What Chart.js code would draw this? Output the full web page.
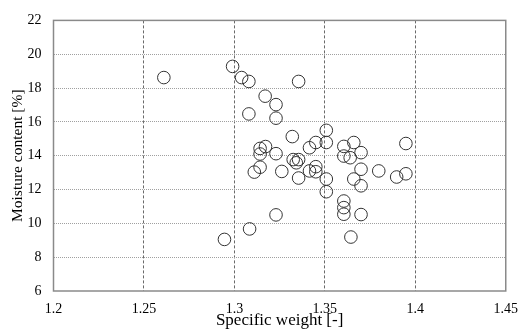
<!DOCTYPE html>
<html>
<head>
<meta charset="utf-8">
<script src="https://cdn.jsdelivr.net/npm/chart.js@4/dist/chart.umd.min.js"></script>
<style>
  html, body { margin: 0; padding: 0; background: #fff; }
  #wrap { width: 528px; height: 329px; }
</style>
</head>
<body>
<div id="wrap"><canvas id="scatterChart"></canvas></div>
<script>
// specific weight [-]
const specificWeight = [
    1.261, 1.299, 1.304, 1.308, 1.308, 1.3355, 1.317, 1.323, 1.323, 1.3508,
    1.332, 1.3508, 1.345, 1.3415, 1.3172, 1.3142, 1.3142, 1.323, 1.3605, 1.366,
    1.370, 1.3605, 1.364, 1.3948, 1.3325, 1.3355, 1.3342, 1.3142, 1.311, 1.3262,
    1.3355, 1.3415, 1.345, 1.345, 1.3508, 1.3508, 1.3605, 1.3605, 1.3605, 1.370,
    1.3644, 1.323, 1.370, 1.366, 1.370, 1.3798, 1.3897, 1.3948, 1.3084, 1.2945
];
// moisture content [%]
const moistureContent = [
    18.62, 19.28, 18.62, 18.39, 16.47, 18.39, 17.52, 17.02, 16.22, 15.5,
    15.13, 14.78, 14.78, 14.47, 14.54, 14.43, 14.10, 14.12, 14.55, 14.78,
    14.18, 13.98, 13.88, 14.72, 13.77, 13.77, 13.58, 13.32, 13.03, 13.07,
    12.68, 13.1, 13.35, 13.05, 12.62, 11.87, 11.32, 10.93, 10.54, 10.52,
    9.19, 10.5, 13.2, 12.62, 12.22, 13.1, 12.74, 12.93, 9.67, 9.05
];
const xTicks = [1.2, 1.25, 1.3, 1.35, 1.4, 1.45];
const yTicks = [6, 8, 10, 12, 14, 16, 18, 20, 22];

const points = specificWeight.map((x, i) => ({ x: x, y: moistureContent[i] }));
const fontFamily = "'Liberation Serif', 'Times New Roman', serif";

// solid frame around the plot area
const frameBox = {
    id: 'frameBox',
    afterDraw(chart) {
        const a = chart.chartArea;
        const c = chart.ctx;
        c.save();
        c.strokeStyle = '#8a8a8a';
        c.lineWidth = 1.5;
        c.setLineDash([]);
        c.strokeRect(a.left, a.top, a.right - a.left, a.bottom - a.top);
        c.restore();
    }
};

const ctx = document.getElementById('scatterChart').getContext('2d');
new Chart(ctx, {
    type: 'scatter',
    data: {
        datasets: [{
            data: points,
            pointRadius: 6.3,
            pointHoverRadius: 6.3,
            borderColor: '#333',
            borderWidth: 1,
            backgroundColor: 'rgba(255,255,255,0)'
        }]
    },
    options: {
        responsive: true,
        maintainAspectRatio: false,
        animation: false,
        layout: { padding: { top: 16, right: 13, left: 0, bottom: 0 } },
        plugins: { legend: { display: false }, tooltip: { enabled: false } },
        scales: {
            x: {
                type: 'linear',
                min: 1.2,
                max: 1.45,
                afterBuildTicks: s => { s.ticks = xTicks.map(v => ({ value: v })); },
                afterFit: s => { s.height = 38; },
                ticks: {
                    padding: 10,
                    color: '#000',
                    font: { family: fontFamily, size: 14 },
                    callback: v => String(v)
                },
                grid: {
                    drawTicks: false,
                    color: c => (c.index === 0 || c.index === xTicks.length - 1) ? 'rgba(0,0,0,0)' : '#6a6a6a',
                    lineWidth: 1,
                    borderDash: [3, 2]
                },
                border: { display: false, dash: [3, 2] },
                title: {
                    display: true,
                    text: 'Specific weight [-]',
                    color: '#000',
                    font: { family: fontFamily, size: 17, lineHeight: 1.0 },
                    padding: { top: 0, bottom: 0 }
                }
            },
            y: {
                type: 'linear',
                min: 6,
                max: 22,
                afterBuildTicks: s => { s.ticks = yTicks.map(v => ({ value: v })); },
                afterFit: s => { s.width = 53.5; },
                ticks: {
                    padding: 12,
                    color: '#000',
                    font: { family: fontFamily, size: 14 },
                    callback: v => String(v)
                },
                grid: {
                    drawTicks: false,
                    color: c => (c.index === 0 || c.index === yTicks.length - 1) ? 'rgba(0,0,0,0)' : '#a0a0a0',
                    lineWidth: 1,
                    borderDash: [1, 1]
                },
                border: { display: false, dash: [1, 1] },
                title: {
                    display: true,
                    text: 'Moisture content [%]',
                    color: '#000',
                    font: { family: fontFamily, size: 15.5 },
                    padding: { top: 8.7, bottom: 0 }
                }
            }
        }
    },
    plugins: [frameBox]
});
</script>
</body>
</html>
